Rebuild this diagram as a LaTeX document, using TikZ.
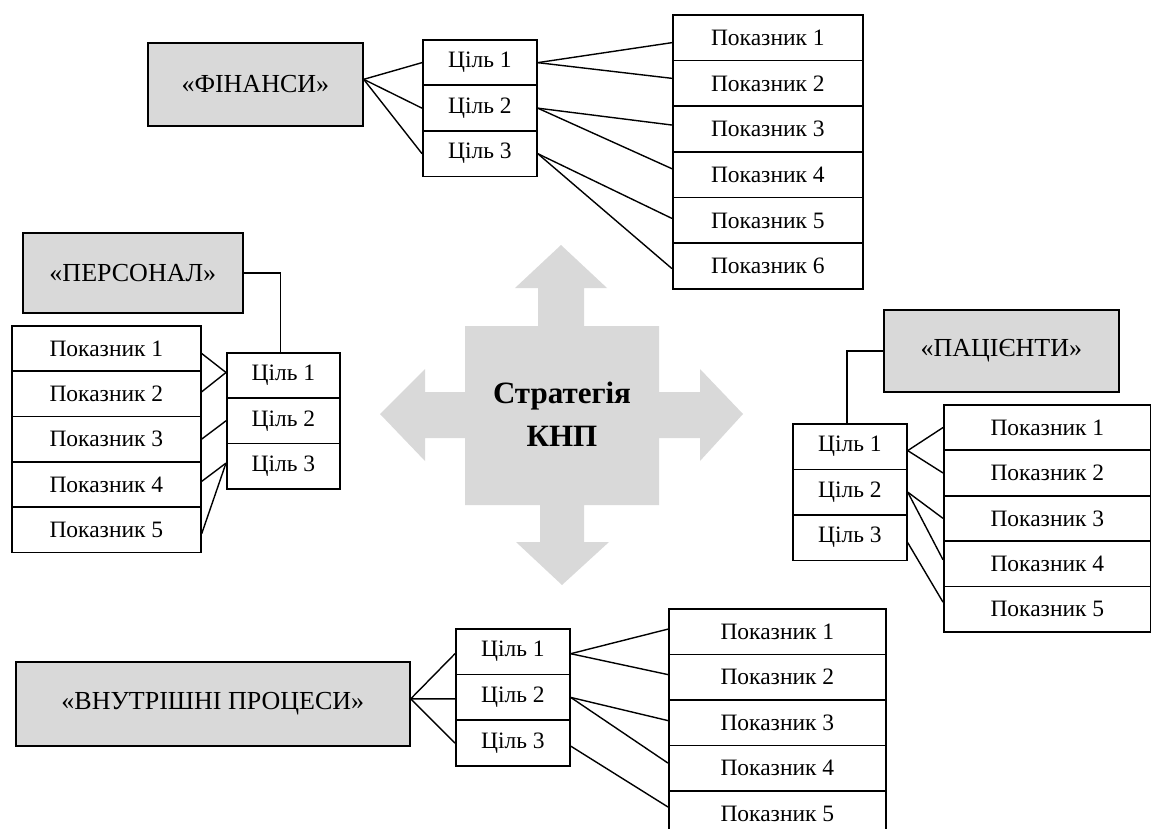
\documentclass[tikz,border=0pt]{standalone}
\usepackage{fontspec}
\setmainfont{Liberation Serif}
\usetikzlibrary{calc}
\definecolor{boxgray}{HTML}{D9D9D9}
\tikzset{
  bx/.style={draw=black, line width=1.7pt, anchor=north west, inner sep=0pt, font=\fontsize{23.5}{26}\selectfont},
  gbx/.style={bx, fill=boxgray, font=\fontsize{26}{30}\selectfont},
  pk/.style={bx, minimum height=45.6pt},
  cl/.style={bx, minimum height=45.6pt},
  ln/.style={line width=1.4pt, black},
}
\begin{document}
\begin{tikzpicture}[x=1pt,y=-1pt]
\useasboundingbox (0,0) rectangle (1151,829);

% central cross
\fill[boxgray] (561,245) -- (607,288) -- (584,288) -- (584,326) -- (659,326) -- (659,392) -- (700,392) -- (700,369) -- (743,414) -- (700,461) -- (700,438) -- (659,438) -- (659,505) -- (584,505) -- (584,542) -- (609,542) -- (562,585) -- (516,542) -- (540,542) -- (540,505) -- (465,505) -- (465,438) -- (425,438) -- (425,461) -- (380,414) -- (425,369) -- (425,392) -- (465,392) -- (465,326) -- (538,326) -- (538,288) -- (515,288) -- cycle;
\node[font=\bfseries\fontsize{31}{43}\selectfont, align=center, inner sep=0pt] (strat) at (562,414) {Стратегія\\КНП};

% ФІНАНСИ
\node[gbx, minimum width=215pt, minimum height=83pt] (fin) at (147,42) {«ФІНАНСИ»};
\node[cl, minimum width=114pt] (fc1) at (422,39) {Ціль 1};
\node[cl, minimum width=114pt] (fc2) at (422,84.5) {Ціль 2};
\node[cl, minimum width=114pt] (fc3) at (422,130) {Ціль 3};
\node[pk, minimum width=190pt] (fp1) at (672,14) {Показник 1};
\node[pk, minimum width=190pt] (fp2) at (672,59.7) {Показник 2};
\node[pk, minimum width=190pt] (fp3) at (672,105.4) {Показник 3};
\node[pk, minimum width=190pt] (fp4) at (672,151.1) {Показник 4};
\node[pk, minimum width=190pt] (fp5) at (672,196.8) {Показник 5};
\node[pk, minimum width=190pt] (fp6) at (672,242.5) {Показник 6};
\draw[ln] ($(fin.east)+(0,-5)$) -- (fc1.west);
\draw[ln] ($(fin.east)+(0,-5)$) -- (fc2.west);
\draw[ln] ($(fin.east)+(0,-5)$) -- (fc3.west);
\draw[ln] (fc1.east) -- ($(fp1.west)+(0,5)$);
\draw[ln] (fc1.east) -- ($(fp2.west)+(0,-5)$);
\draw[ln] (fc2.east) -- ($(fp3.west)+(0,-4)$);
\draw[ln] (fc2.east) -- ($(fp4.west)+(0,-6)$);
\draw[ln] (fc3.east) -- ($(fp5.west)+(0,-2)$);
\draw[ln] (fc3.east) -- ($(fp6.west)+(0,2.5)$);

% ПЕРСОНАЛ
\node[gbx, minimum width=220pt, minimum height=80pt] (per) at (22,232) {«ПЕРСОНАЛ»};
\node[cl, minimum width=113pt, minimum height=45.3pt] (pc1) at (226,352) {Ціль 1};
\node[cl, minimum width=113pt, minimum height=45.3pt] (pc2) at (226,397.3) {Ціль 2};
\node[cl, minimum width=113pt, minimum height=45.3pt] (pc3) at (226,442.6) {Ціль 3};
\node[pk, minimum width=189pt, minimum height=45.3pt] (pp1) at (11,325) {Показник 1};
\node[pk, minimum width=189pt, minimum height=45.3pt] (pp2) at (11,370.3) {Показник 2};
\node[pk, minimum width=189pt, minimum height=45.3pt] (pp3) at (11,415.6) {Показник 3};
\node[pk, minimum width=189pt, minimum height=45.3pt] (pp4) at (11,460.9) {Показник 4};
\node[pk, minimum width=189pt, minimum height=45.3pt] (pp5) at (11,506.2) {Показник 5};
\draw[ln] (per.east) -| ($(pc1.north)+(-3,0)$);
\draw[ln] ($(pc1.west)+(0,-3)$) -- ($(pp1.east)+(0,5)$);
\draw[ln] ($(pc1.west)+(0,-3)$) -- ($(pp2.east)+(0,-2)$);
\draw[ln] (pc2.west) -- (pp3.east);
\draw[ln] ($(pc3.west)+(0,-3)$) -- ($(pp4.east)+(0,-3)$);
\draw[ln] ($(pc3.west)+(0,-3)$) -- ($(pp5.east)+(0,4)$);

% ПАЦІЄНТИ
\node[gbx, minimum width=235pt, minimum height=82pt] (pat) at (883,309) {«ПАЦІЄНТИ»};
\node[cl, minimum width=114pt, minimum height=45.5pt] (tc1) at (792,423) {Ціль 1};
\node[cl, minimum width=114pt, minimum height=45.5pt] (tc2) at (792,468.5) {Ціль 2};
\node[cl, minimum width=114pt, minimum height=45.5pt] (tc3) at (792,514) {Ціль 3};
\node[pk, minimum width=207pt, minimum height=45.4pt] (tp1) at (943,404) {Показник 1};
\node[pk, minimum width=207pt, minimum height=45.4pt] (tp2) at (943,449.4) {Показник 2};
\node[pk, minimum width=207pt, minimum height=45.4pt] (tp3) at (943,494.8) {Показник 3};
\node[pk, minimum width=207pt, minimum height=45.4pt] (tp4) at (943,540.2) {Показник 4};
\node[pk, minimum width=207pt, minimum height=45.4pt] (tp5) at (943,585.6) {Показник 5};
\draw[ln] (pat.west) -| ($(tc1.north)+(-3,0)$);
\draw[ln] ($(tc1.east)+(0,4)$) -- (tp1.west);
\draw[ln] ($(tc1.east)+(0,4)$) -- (tp2.west);
\draw[ln] (tc2.east) -- (tp3.west);
\draw[ln] (tc2.east) -- ($(tp4.west)+(0,-4)$);
\draw[ln] ($(tc3.east)+(0,5)$) -- ($(tp5.west)+(0,-7)$);

% ВНУТРІШНІ ПРОЦЕСИ
\node[gbx, minimum width=394pt, minimum height=84pt] (vnt) at (15,661) {«ВНУТРІШНІ ПРОЦЕСИ»};
\node[cl, minimum width=114pt, minimum height=45.7pt] (vc1) at (455,628) {Ціль 1};
\node[cl, minimum width=114pt, minimum height=45.7pt] (vc2) at (455,673.7) {Ціль 2};
\node[cl, minimum width=114pt, minimum height=45.7pt] (vc3) at (455,719.4) {Ціль 3};
\node[pk, minimum width=217pt, minimum height=45.5pt] (vp1) at (668,608) {Показник 1};
\node[pk, minimum width=217pt, minimum height=45.5pt] (vp2) at (668,653.5) {Показник 2};
\node[pk, minimum width=217pt, minimum height=45.5pt] (vp3) at (668,699) {Показник 3};
\node[pk, minimum width=217pt, minimum height=45.5pt] (vp4) at (668,744.5) {Показник 4};
\node[pk, minimum width=217pt, minimum height=45.5pt] (vp5) at (668,790) {Показник 5};
\draw[ln] ($(vnt.east)+(0,-5)$) -- ($(vc1.west)+(0,2)$);
\draw[ln] ($(vnt.east)+(0,-5)$) -- ($(vc2.west)+(0,1.5)$);
\draw[ln] ($(vnt.east)+(0,-5)$) -- (vc3.west);
\draw[ln] ($(vc1.east)+(0,2)$) -- ($(vp1.west)+(0,-2.5)$);
\draw[ln] ($(vc1.east)+(0,2)$) -- ($(vp2.west)+(0,-2.5)$);
\draw[ln] (vc2.east) -- ($(vp3.west)+(0,-2)$);
\draw[ln] (vc2.east) -- ($(vp4.west)+(0,-5)$);
\draw[ln] ($(vc3.east)+(0,3)$) -- ($(vp5.north west)+(0,17)$);
\end{tikzpicture}
\end{document}
